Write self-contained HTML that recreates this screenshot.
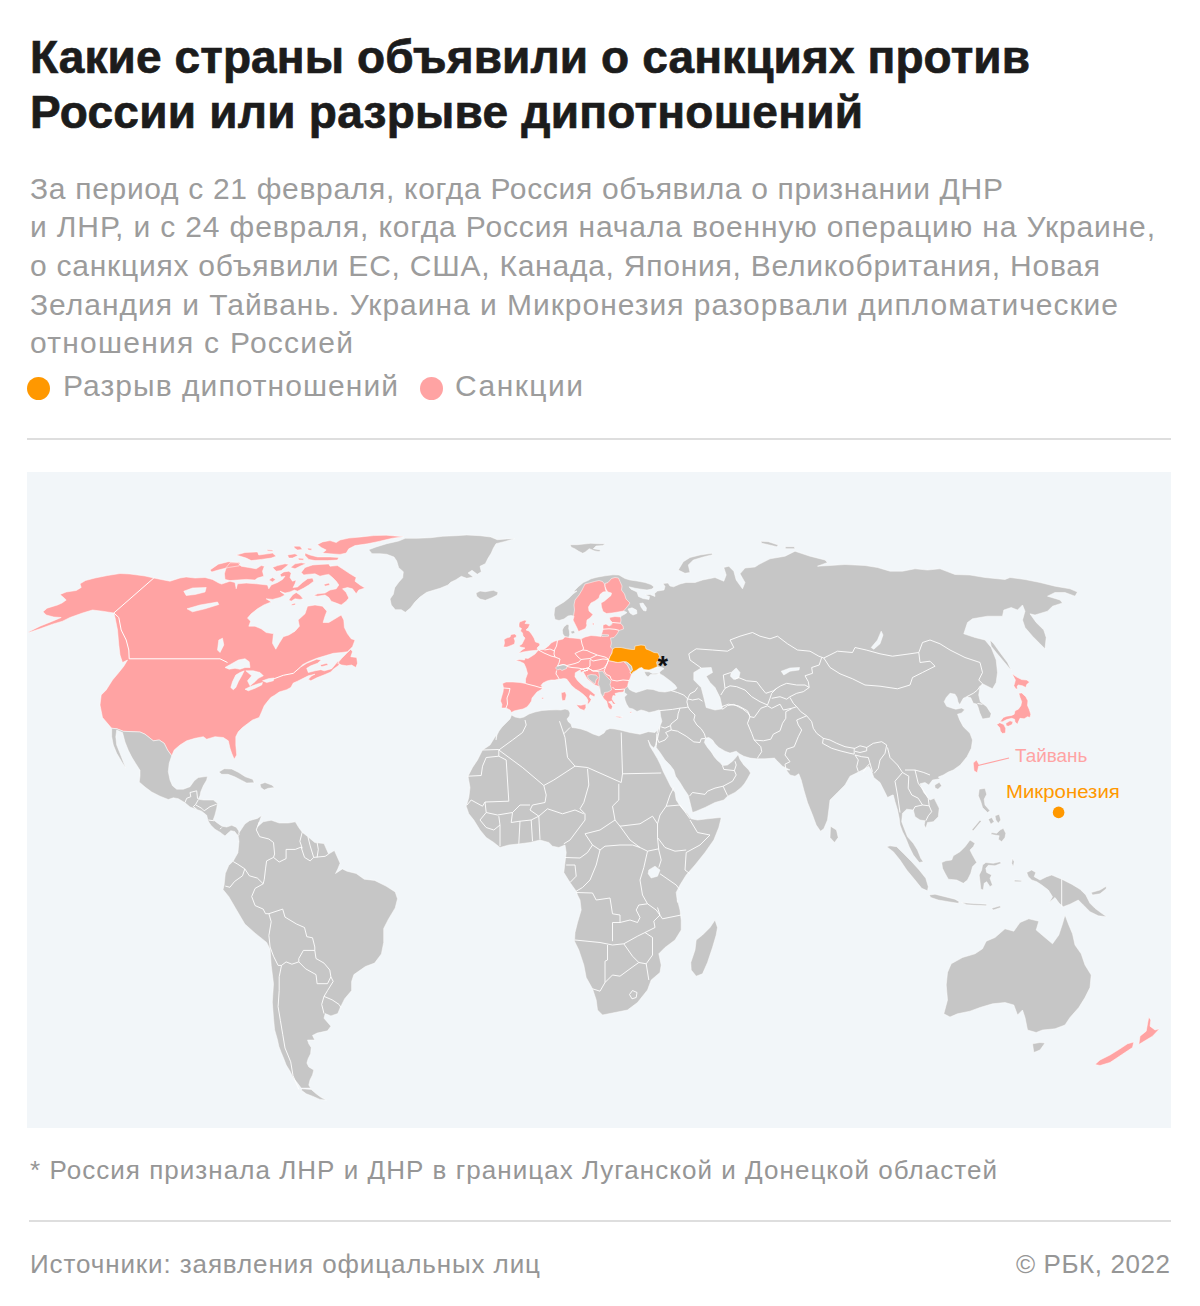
<!DOCTYPE html>
<html lang="ru">
<head>
<meta charset="utf-8">
<title>Какие страны объявили о санкциях против России</title>
<style>
html,body{margin:0;padding:0;background:#fff;}
body{width:1200px;height:1306px;position:relative;overflow:hidden;font-family:"Liberation Sans",sans-serif;}
.t{position:absolute;white-space:nowrap;left:30px;}
.h{font-weight:bold;font-size:46px;line-height:46px;color:#1c1c1c;-webkit-text-stroke:0.7px #1c1c1c;}
.b{font-size:30px;line-height:30px;color:#9c9c9c;}
.hr{position:absolute;left:27px;width:1144px;height:2px;background:#dedede;}
.dot{position:absolute;width:23.4px;height:23.4px;border-radius:50%;}
#map{position:absolute;left:27px;top:472px;width:1144px;height:656px;background:#f2f6f9;overflow:hidden;}
.f{font-size:26px;line-height:26px;color:#969696;}
</style>
</head>
<body>
<div class="t h" id="h1" style="top:34.1px;letter-spacing:0.112px">Какие страны объявили о санкциях против</div>
<div class="t h" id="h2" style="top:89.1px;letter-spacing:0.249px">России или разрыве дипотношений</div>
<div class="t b" id="b1" style="top:173.6px;letter-spacing:0.688px">За период с 21 февраля, когда Россия объявила о признании ДНР</div>
<div class="t b" id="b2" style="top:212.3px;letter-spacing:0.858px">и ЛНР, и с 24 февраля, когда Россия начала военную операцию на Украине,</div>
<div class="t b" id="b3" style="top:250.9px;letter-spacing:0.764px">о санкциях объявили ЕС, США, Канада, Япония, Великобритания, Новая</div>
<div class="t b" id="b4" style="top:289.6px;letter-spacing:0.978px">Зеландия и Тайвань. Украина и Микронезия разорвали дипломатические</div>
<div class="t b" id="b5" style="top:328.3px;letter-spacing:1.245px">отношения с Россией</div>
<div class="dot" style="left:26.9px;top:377.1px;background:#ff9800"></div>
<div class="t b" id="l1" style="left:63px;top:370.6px;letter-spacing:1.056px">Разрыв дипотношений</div>
<div class="dot" style="left:419.9px;top:377px;background:#ffa3a3"></div>
<div class="t b" id="l2" style="left:455px;top:370.6px;letter-spacing:1.487px">Санкции</div>
<div class="hr" style="top:438px"></div>
<div id="map">
<svg width="1144" height="656" viewBox="27 472 1144 656" style="position:absolute;left:0;top:0">
<path fill="#ffa3a3" stroke="#fff" stroke-width="0.5" stroke-linejoin="round" d="M28.8,631.8 40,626.2 52.5,621.2 61.2,617.5 53.8,617 46.2,615 43,611.8 47,608.2 57.5,605 62,603 66.2,600 63,597 60,594.5 66.2,592 76.2,590.5 81.2,587.5 80,583.8 85.5,580.5 95,578 107.5,575.5 120,573.5 130,574 137.5,575 145,576 153.8,578 161.2,579.5 170,581.2 180,578 186.2,577 195,578 205,577.5 212.5,579.5 218.8,583 221.6,584.1 230,581.2 235,582.5 236.2,588.8 237.5,583.8 246.2,583.1 256.2,583.8 267.5,585 268.8,588.8 271.2,585 277.5,582.5 282.5,579.4 285,576.2 281.2,576.9 280,574.4 283.8,571.9 288.8,571.2 291.2,573.1 290,577.5 292.5,581.2 296.2,580 295,583.8 293.1,587.5 297.5,586.9 302.5,582.5 307.5,578.8 312.5,578.1 313.8,581.2 308.8,585 303.8,588.1 297.5,591.2 294.4,590 290,591.9 285,593.1 280,591.2 285,595 280,597.5 272.5,599.4 266.2,598.8 271.2,601.9 263.8,605 257.5,608.8 251.2,613.8 247.5,618.1 250.6,621.2 248.8,626.2 255,626.2 261.2,628.8 266.2,632.5 273.8,633.8 273.3,635 272.5,643.3 275.8,649.2 279.2,643.3 283.3,636.7 288.8,635 295,631.2 299.4,626.2 298.1,620 305,613.8 307.5,606.2 315,605 322.5,606.2 326.9,611.2 325,616.2 323.1,622.5 328.8,622.5 335,618.8 341.2,615 343.8,620 344.4,627.5 347.5,633.8 351.2,638.8 355,640 352.5,646.7 347.5,651.7 341.7,652.5 333.3,653.3 325,655.8 316.7,658.3 308.3,661.7 302.5,664.7 300,667.5 306.7,663.3 316.7,659.2 321.3,660 317.5,663.3 310.8,665.8 306.7,668.3 308.3,672.5 315,670.8 320.8,669.7 324.2,670.8 328.3,669.7 331.7,668.7 338.3,660.8 339.2,665 333.3,669.2 330.8,672 325,674.5 316.7,677.8 310.8,680.8 308.3,679.2 311.7,675.8 315,674.2 308.3,675.8 303.3,678.3 297.5,681.2 293.3,683 290.8,687.5 286.7,689.7 279.2,692 275,695 270.8,697.5 266.7,702.5 264.2,705.8 261.7,711.7 259.2,717.5 252.5,720 242.5,727.5 238.3,731.7 235.8,736.7 235.8,745 236.7,755 234.2,759.2 231.7,753.3 230,748.3 228.3,740.8 223.3,737.5 215,736.7 206.7,739.2 203.3,736.7 195,738.3 186.7,740.8 180,745 174.2,750 171.7,755.8 167.5,750 164.2,743.3 159.2,740 153.3,740.8 145,734.2 140,732 123.3,731.3 116.7,728.7 111.7,728.3 102.5,717.5 100,705 101.2,695 106.2,690 112.5,680 118.8,672.5 123.8,666.2 127.5,660 122.5,662.5 120,655 118.8,645 117.5,630 115,617.5 113.8,613 102.5,611.2 92.5,610 82.5,613 70,617.5 62.5,621.2 52.5,624.2 40,628.8 28.8,632.5ZM337.5,663.3 341.7,658.3 346.7,653.3 350.8,649.2 352.5,651.7 350.8,656.7 356.7,657.5 357.5,663.3 355.8,667.5 351.7,665 346.7,665.8 341.7,665.0ZM320,665 326.7,663.3 328.3,665 321.7,666.7ZM210,570 218.3,564.2 228.3,561.7 240,562.5 239.2,565.8 228.3,567.5 218.3,570 211.7,572.0ZM224.4,573.8 226.2,567.5 230,562.8 237.5,562.8 241.2,566.2 248.8,567.5 256.2,568.8 261.2,565.6 264.4,566.2 262.5,571.2 263.8,576.2 257.5,578.1 255,580 246.2,579.4 237.5,580 230,580.6 225,579.4ZM236.2,555 245,552.5 257.5,551.9 258.8,555 267.5,553.8 272.5,553.1 276.2,556.2 271.2,558.1 261.2,559.4 251.2,560.6 246.2,558.1ZM266.9,549.8 273.1,550 272.5,551.2 267.5,551.0ZM272.5,567.5 277.5,565.6 285,563.8 288.8,564.4 285,567.5 281.2,570.6 276.2,571.2ZM290.6,567.5 295,563.8 301.2,562.8 306.2,563.5 300,566.2 295,568.8ZM268.8,580 272.5,577.5 275.6,579.4 272.5,581.9ZM287.5,555 295,553.8 298.1,555.6 292.5,558.1 288.8,558.1ZM298.1,558.1 303.8,558.5 303.5,560.2 298.8,560.0ZM293.8,546.2 300,546.2 302.5,549.4 297.5,550 294.4,548.1ZM307.5,548.1 311.9,548.5 311.5,550.2 308.1,550.0ZM305,553.1 310,555 317.5,556.9 330,556.9 338.8,557.5 337.5,560 327.5,560.6 315,560.6 308.8,559.4 305,555.6ZM317.5,544.4 322.5,541.9 330,540.6 336.2,542.5 340,540 348.8,538.1 361.2,536.9 373.8,535.6 386.2,535.2 403.8,536.8 392.5,538.2 382.5,540.6 380,541.2 367.5,543.8 355,545.6 348.8,548.8 346.2,553.1 340,554.4 330,553.8 322.5,553.1 326.2,550 321.2,547.5ZM301.2,572.5 305,567.5 312.5,565 320,564.4 328.8,564 330,566.2 337.5,565.6 342.5,568.8 350,573.8 356.2,577.5 355,581.2 360,585 365,588.1 358.8,590 356.2,593.8 352.5,588.8 347.5,587.5 342.5,588.8 346.2,592.5 348.8,598.1 346.2,601.2 341.2,605 336.2,603.1 331.2,601.2 328.8,597.5 325,595 317.5,596.2 313.8,595.6 317.5,593.8 325,593.1 330,590 336.2,588.8 338.8,585 336.2,581.2 332.5,577.5 328.8,574.4 325,575 320,576.2 315,573.8 307.5,574.4 303.8,575.0ZM323.8,584.4 328.8,583.1 330,585 325,586.2ZM288.8,600 292.5,595 296.2,592.5 300,595 303.1,598.8 300,599.4 295,598.8 291.2,601.2ZM291.2,604.4 295,603.1 295.6,604.8 291.9,605.6Z"/>
<path fill="#f2f6f9" stroke="#fff" stroke-width="0.5" stroke-linejoin="round" d="M183.8,591.2 192.5,588 206.2,587.5 205,592 195,594.5 186.2,595.5ZM187,608.8 200,605 217.5,602 218.8,604.5 205,608.8 192.5,611.8ZM218.8,640 222.5,638.2 223.8,645 220,652.5 217.5,650.0ZM225,667.5 230.8,664.2 238.3,660 245,658.7 249.2,661.7 250,667.5 245,667.5 240,669.2 235,668.3 229.2,669.2ZM230.8,687.5 232.5,681.7 235.8,675 240,672.5 244.2,670.8 241.7,675.8 238.3,681.7 235.8,687.5 233.3,689.7ZM245.8,670.8 253.3,670.8 260,672.5 263.3,675.8 258.3,678.3 255,681.7 250,685.8 247.5,680.8 251.7,675.8ZM245,689.2 250,686.7 256.7,684.2 262.5,682.5 261.7,685 255,688.3 248.3,690.8ZM262.5,680.8 268.3,678.7 274.2,678 273.3,680.8 266.7,682.5Z"/>
<polyline points="153.8,578.0 113.8,613.0" fill="none" stroke="#fff" stroke-width="1" stroke-linejoin="round"/>
<polyline points="113.8,613.0 118.8,617.5 121.2,630.0 126.2,640.0 128.8,650.0 129.2,658.8 220.0,658.8 227.5,662.5" fill="none" stroke="#fff" stroke-width="1" stroke-linejoin="round"/>
<polyline points="274.2,678.7 283.3,675.3 293.3,673.3 300.0,667.5" fill="none" stroke="#fff" stroke-width="1" stroke-linejoin="round"/>
<path fill="#c6c6c6" stroke="#fff" stroke-width="0.5" stroke-linejoin="round" d="M368.7,549.7 376,547 386.7,543.7 398.7,541 405.3,538.3 417.3,538.3 430.7,537.7 442.7,536.3 456,535.7 466.7,535 480,535.7 490.7,537 497.3,539.7 506.7,539 514.7,538.7 504,541.7 496,543.7 493.3,548.3 491.3,553 488,558.3 485.3,563.7 480,566.3 481.3,571.7 477.3,574.3 472,570.3 468,573 473.3,577 466.7,578.3 461.3,576.3 456,579.7 450.7,582.3 448,585 440,588.3 433.3,590.3 426.7,592.3 420,597 414.7,602.3 410.7,607.7 405.3,612.3 401.3,609.7 395.3,609.7 391.3,605 390,599 393.3,594.3 394.7,587.7 398.7,582.3 402.7,577.7 403.3,571.7 398.7,567.7 396.7,561 394,557 386.7,554.3 380,553.7 372,553.7ZM476,593 480,591 485.3,591.7 493.3,590.3 498,592.3 497.3,595 492,597.7 485.3,600.3 480,599 476.7,596.3ZM570,544.7 577.3,544.7 584,544 590.7,543.3 598.7,543.7 605.3,543.7 602.7,545.6 596,546 593.3,548.7 600.7,550 599.3,551.7 594.7,550.9 589.3,548.7 585.3,552 582.7,553.3 578.7,551.3 574.7,548.7 571.3,547.3ZM111.7,728.3 116.7,728.7 123.3,731.3 140,732 145,734.2 153.3,740.8 159.2,740 164.2,743.3 167.5,750 171.7,755.8 169.2,763.3 168.3,771.7 170,780 172.5,785.8 176.7,789.2 183.3,789.2 190,786.7 194.2,780.8 198.3,777.5 207.5,776.3 206.7,780 203.3,785.8 200.8,791.7 200,795.8 198.3,799.2 203.3,800 213.3,800 217.5,803.3 216.7,808.3 215,815 213.3,819.7 217,822.7 222,826.2 226.7,827 231.7,825.3 236.2,827.2 238.7,830.8 239.3,835 237.5,835.3 234.7,831.5 230.8,830.7 227.5,833.5 225,836 220,832.2 215,829.3 210.8,825.2 208,820.8 206.7,815.3 201.7,811.2 196.7,809.5 190,807 185,802.8 178.3,798.7 173.3,797.8 168.3,799.5 160,796.2 151.7,792 145,787 139.2,782 140,776.2 140,770.3 135.8,763.7 131.7,757 128.3,750.3 125,742 122.5,732.5 116.7,730 115.8,736.7 116.7,745 120,753.3 123.3,761.7 125.8,768.3 121.7,761.7 116.7,753.3 113.3,745 111.7,736.7ZM218.8,772 224.2,768.7 231.7,769 238.7,772.5 245.3,776.7 252.8,779.3 254.2,782.7 246.7,783 241.3,780.2 234.7,776.8 228,774.3 221.7,774.3ZM260,784.2 265,782.5 271.7,785 274.7,787.5 268.3,788.3 264.2,790 260.8,787.5ZM237.9,834.5 244.8,824.1 249.4,820.7 257.4,818.4 261.6,815.6 259.3,821.8 257.9,826.4 263.2,821.8 271.2,820.2 279.2,823 288.4,823 295.3,821.8 298.8,827.6 302.2,832.2 307.9,836.7 314.8,842.5 324,843.6 328.6,854 334.4,850.5 340.1,863.2 337.8,868.9 335.5,873.5 342.4,868.9 347,871.2 356.2,873.5 364.2,879.2 374.6,880.4 386,886.1 395.2,891.9 397.5,898.8 395.2,907.9 388.3,919.4 383.7,928.6 383.7,942.4 381.4,953.9 374.6,963.1 365.4,966.5 353.9,974.6 351.6,981.4 351.6,990.6 344.7,998.7 340.1,1007.9 337.8,1013.6 330.9,1015.9 325.2,1013.6 324,1018.2 330.9,1026.2 327.5,1030.8 317.1,1033.1 312.5,1035.4 314.8,1040 307.5,1040 308.8,1043.8 311.2,1047.5 310.6,1053.8 308.1,1058.8 306.9,1063.1 308.8,1066.9 313.8,1070 312.5,1075 310,1080 308.8,1085 310.6,1088.1 301.2,1088.1 297.5,1083.1 293.1,1077.5 290,1071.2 286.2,1065 283.8,1058.8 281.2,1052.5 278.8,1046.2 277.5,1040 274.6,1029.7 273.5,1018.2 272.3,1002.1 273.5,983.7 271.2,965.4 270.1,949.3 266.6,942.4 255.1,933.2 244.8,924 236.7,910.2 228.7,896.5 223,889.6 224.1,885 225.3,873.5 228.7,865.5 233.3,860.9 237.9,852.8 239,841.3ZM302.5,1088.8 311.2,1089.4 316.2,1093.8 321.2,1097.5 326.2,1100 320,1099.4 312.5,1096.2 306.2,1093.8 301.2,1090.0ZM573.5,616 571,615.5 568,616 564,619 559,620.5 555,619.5 554,615 554.5,610 555,607.5 559,605 564,602 569,598 573,594 577,591 573.3,591.7 578.3,586.7 583.3,582.5 588,580.5 591,578.8 597,577.2 605,575.8 613,574.8 619,575 621.5,576.5 625,578.5 630,580 637,581 645,582.5 651,584.5 654,587 652,589 647,590 641,589.2 635,588.2 629,586.8 631,589.2 637,592 638.5,596.5 643,598.5 649,599.5 649.5,596.5 645,595 650,594.5 655,596.5 654.5,593.5 657.5,591 664,590 665,586.5 663,583.5 668,583 670,586 673.5,586.8 680,584 686,582.5 695,582.5 702.5,580 715,577.5 723.8,581.2 726.2,575 723.8,567.5 728.8,566.2 733.8,571.2 736.2,580 742.5,588.8 745,582.5 740,573.8 745,568 755,567 758.8,564.5 770,558.8 785,556.2 795,551.2 810,556.2 825,560 827.5,562.5 817.5,566.2 830,565.5 845,564.5 865,565.5 877.5,567.5 890,571.2 902.5,571.2 915,568.8 927.5,570 940,568.8 955,574.5 970,575 985,577.5 1005,579.5 1010,577.5 1025,579.5 1040,582.5 1055,586.2 1070,588.8 1077.5,592 1075,596.2 1065,592.5 1055,592.5 1047.5,596.2 1060,600 1062.5,603 1052.5,606.2 1047.5,611.2 1035,615 1030,613.8 1036.2,622.5 1043.8,630 1046.2,637.5 1045,648.8 1040,643.8 1032.5,636.2 1025,627.5 1022.5,620 1025,611.2 1022.5,605 1017.5,610 1011.2,607.5 1003.8,610 1002.5,616.2 987.5,616.2 972.5,618.8 967.5,622.5 963.8,633.8 975,637.5 985,640 991.2,647.5 996.2,660 997.5,672.5 996.2,682.5 992.5,688.8 985,685 982.5,683.8 980,686.3 978.7,695 980.3,701.7 986.7,706.7 991.2,713.7 990,717.8 982.5,719 979.7,712.8 978,707 976.7,704 973.3,703.3 970.8,697.8 966.7,696.7 963.3,698.3 959.7,704.7 958,702 957,697.5 955,694.2 950,693.3 946.3,697.5 944.2,701.7 946.7,706.3 951.7,708 955.8,709.2 961.7,708 964.7,709.7 961.7,713 957.5,714.2 959.7,720 963.3,726.7 970,733.3 972.5,740 971.3,748.3 967,756.7 960.3,765 953.3,770 948.3,772 943.3,775 938.3,777 940,778.8 932.5,780 928.8,785 925,782.5 920,783.8 923.8,792.5 930,800 934.2,798.3 939.2,808.3 938.3,816.7 933.3,821.7 927.5,822.5 925.8,828.3 924.2,825 925,820.8 920,820 915,816.7 913.3,810 906.7,809.2 902.5,813.3 901.7,821.7 904.2,828.3 907.5,836.7 913.3,843.3 917.5,850 920.8,858.3 923.3,861.7 919.2,862.5 913.3,855 909.2,846.7 905.8,838.3 902.5,831.7 900,825 899.2,818.3 897.5,810 895,801.7 893.3,795 892.5,795 887.5,797.5 883.8,790 880,782.5 873.8,777.5 871.2,770 868.8,766.2 862.5,770 855,773.8 850,776.2 845,785 837.5,792.5 830,800 828.8,810 827.5,820 823.8,828.8 820.5,831.2 816.2,825 812.5,815 807.5,802.5 803.8,790 801.2,780 798.8,773.8 795,776.2 790,775 786.2,770 790,770 782.5,766.2 777.5,761.2 774.4,758.1 765,758.8 756.9,758.8 750,758.1 743.8,756.2 739.4,753.8 736.2,751.2 730,753.1 725,751.2 718.8,747.5 715,743.8 712.5,740 708.8,737.5 705.6,738.1 704.4,742.5 707.5,747.5 711.2,751.9 714.4,756.9 717.5,760.6 720,762.5 722.5,765.6 727.5,765 732.5,761.2 735.6,757.8 738.1,754.6 740,759.4 743.8,765 748.8,770 750.6,773.1 747.5,778.8 744.4,783.8 741.2,787.5 735,792.5 727.5,796.2 723.8,800 715,802.5 705,807.5 696.2,811.2 692.5,812.5 689.4,800 688.1,795 683.8,788.8 680,782.5 675.6,776.2 673.8,770 670,765 665,760 660,752.5 656.2,747.5 656.9,740 657.5,738.8 656.9,733.8 658.1,730 660,726.2 661.9,721.2 660.6,716.2 660,710.6 659,710 654,711.5 649,712.5 645,711 641,710 637,711.5 633,709 629,708 626.5,704 625,700 624.5,697 627,694.5 624.5,692.5 624.5,689 620,685 618,670 615,655 605,645 605,630 615,620 620.5,617 622,615.5 625,614 627,612.5 625,611.5 623.5,611 615,600 613,585 595,590 585,600 580,610 575,616.2Z"/>
<path fill="#f2f6f9" stroke="#fff" stroke-width="0.5" stroke-linejoin="round" d="M631.5,674.5 630,678.5 629,680.5 628,684 627.5,686.5 629.5,689.5 632,691 636,692.5 641,691 647,689 653,689.5 659,691.5 665,692 670,691 675,689.5 677,688 675,685 671,681.5 667,678.5 663,675.5 660,674 659.5,672.2 662,670 664,668.8 662,667.5 657.5,666.8 653,668.8 649,670 644,669.5 642,667.5 639.5,668.2 636,670.5Z"/>
<path fill="#c6c6c6" stroke="#fff" stroke-width="0.5" stroke-linejoin="round" d="M644,671.8 649,671.8 652.5,673.5 657,673.2 659.5,673.8 655,674.5 650.5,674.5 648,677 645.8,675.2 644.8,673.0Z"/>
<path fill="#f2f6f9" stroke="#fff" stroke-width="0.5" stroke-linejoin="round" d="M628,609 632,607.8 636.5,610 637,613.5 633,615 630,613.0ZM639.8,603.5 643,603 646.5,608 646,611 643.5,610.5 641,607.0ZM693.8,672.5 701.2,668 711.2,667.5 712.5,672.5 706.2,676.2 710,682.5 715,687.5 720,697.5 722.5,708.8 715,710 706.2,707.5 703.8,697.5 701.2,687.5 693.8,680.0ZM731.2,672.5 736.2,668 740,672.5 738.8,678 733.8,679.5 730.5,676.2ZM781.2,671.2 790,668 799.5,667.5 799,670 790,671.2 783.8,675.0ZM871.2,647.5 877.5,640 881.2,631.2 883,635 880,643.8 873.8,649.2Z"/>
<path fill="#ffa3a3" stroke="#fff" stroke-width="0.5" stroke-linejoin="round" d="M538.5,650 544,649.5 549,645.5 551,643 555,641 557.5,640.5 559,640 563,639 565,636.8 568.5,637.2 569,637.7 573,638 578,638.5 581,639 585,637 591,635.5 597,636 601,636.5 601.5,634.5 603,629.5 603,625 606,624 609,626 611.5,625 612.5,622.5 610,620 609.5,617.5 615,616.5 620.5,617 621,620 620.5,623.2 623,626 623.5,629 619,630.5 617,634 614,637.5 610.5,638 611.5,643 610.5,647 612,648.5 612.5,649.5 612,653 610,656.5 608.5,660.5 613,661.5 618,662.5 623.5,661.5 624.5,662 627.5,665 629,668 630.5,671 630,673 631.5,674.2 630,678.5 629,680.5 628,684 627.5,686.5 624.5,689 623.5,692 619,692.5 615,693.5 616,696 613,695.5 612,699 614,702 616,704 613,704 611.5,701 608.5,702 611,704 612.5,706.5 611.5,709.5 609.5,709 608,707 607.5,704.5 606.5,701 604,699 602.5,696.5 601,694 600,690 599,686.5 595,685 591,682 587,678.5 585,675 583,671.5 581,672.5 580,670 575.3,672.8 575,676.8 577.5,680.6 580.5,683.6 584.4,687.1 588.3,689.1 591.4,691.6 595.3,694.7 594.2,696.7 590.2,694.7 589.3,697 591.3,699.5 589.8,702.2 587.4,704.9 588,700.3 586.4,697.4 583.4,694.5 579.5,691.5 575.5,689 571.5,685.5 568.5,681.5 566.6,679 563.8,678.4 561,679 559,679 555,680 551,680 547,681 543,683 541,685.5 543,687.8 540.5,690 537,692 534.5,695 532,698 531.5,701 529.5,704 527,707 523,709 518,710 514,711 511.5,712.5 510,710 506,708 501.5,708 502,704.5 500.5,701 501.5,697 503,692 503.5,688 502.5,683.5 506,682 513,682 520,682.5 525.5,683.5 525.5,679 527.5,673.5 526,668 524,663.5 520,661.5 515.5,660.5 519.5,659.5 524.5,660 525,658 528,658.5 532,656 535,654 538,650.5ZM574,616.5 573,620 575,624 577,628 578.5,631.5 582,630 585.5,628.5 587,625 586.5,624 587,620 590,618 593,614.5 589,611 588.5,607 591,603 595,601 599,598 600,594.5 603,592 606.5,591.5 605.5,590 604.5,584 602.5,581.5 599,580.5 594.5,581.5 589,583 585,584 582,590 579,595 575,600 574,605 574.5,610 573.5,616.0ZM605,583.5 608,582.5 611.5,578.5 615,577.5 618.5,578 620,581.5 622,586 621.5,590 624.5,594 626,599 630,603 627,607 623.5,611 618,612 612,613 606.5,613.5 603,611.5 601.5,607 601,603 604.5,601 608,598 611,595.5 611.5,593 608,592 606.5,590 605,586.5ZM519.5,622 525,620 526.5,621 525,623.5 530,624 528.5,627.5 526,630 529,631 531.5,634 534,638 535.5,642 539,643 540,645 537,648 538,650 534,650.5 529,651 523,652 518.5,653.2 522,650 525,648 520.5,647 519,646 522,644 523.5,641 525,638 523,636 522.5,633 520.5,631 521.5,628.5 519,627 519,624.0ZM503.5,647 504.5,643 504,639.5 507,637.8 510,637 511,634.5 514.5,634 516.5,635.5 516,637.5 514,638 515,641 514.5,644 511,645.5 507,647.0ZM576.2,704.8 581,705.2 585.8,704.1 585.9,707.7 584.2,710.4 579.8,708.8ZM561.2,692.8 565.2,691.7 566.4,695 565.3,700.3 562.3,700.8 561.5,697.0ZM541.8,697.4 543.4,697.4 543.4,699 541.8,699.0ZM615.5,716.2 619,716.5 623,717.2 619.5,717.8 616,717.0ZM629.8,712 631.6,711.8 631.4,713 630,713.1ZM592.5,622.8 594,623.2 593.8,625.2 592.6,624.8Z"/>
<path fill="#c6c6c6" stroke="#fff" stroke-width="0.5" stroke-linejoin="round" d="M564.8,636.6 562.8,634 562.3,630 563.8,627 567,624.3 569,625 568.7,628.5 569.4,631 569.7,634.5 569,637.2ZM570.5,631.5 574,630.5 575,633 572,634.0ZM555.5,668 557.5,666 561,665 564.5,664.5 567,666 566.5,668.5 564,669.5 562,670.5 560,669 557.5,670.0ZM587.5,675.5 591,674.5 596,675 598,677.5 596,680 595,684 591,681 588,678.0ZM598.5,671.5 602.5,671 605,674.5 608,678 611,681 610,684.5 611,687.5 611.5,690 608,692 604.5,692.5 603.5,696 602.5,696.5 600.5,693 600,689 599.5,686.5 598,684 599,680 599.5,676.0ZM601.5,634.5 608.5,634.8 608.5,636.2 601.8,636.5Z"/>
<path fill="#ff9800" stroke="#fff" stroke-width="0.5" stroke-linejoin="round" d="M608.5,660.5 610,656.5 612,653 612.5,649.5 615,647.5 621,647.5 628,649 632,649.5 634.5,649.5 635,646 641,645 645,645.5 646,649 650,650.5 654,652.5 658,653 659.5,656.5 658,660 656.5,662.5 657.5,666.5 653,668.5 649,670 644,669.5 642,667.5 639.5,668 636,670.5 633,672 631.5,674 630,673 632.5,670 631.5,666 629,663.5 626.5,662 623.5,661.5 618,662.5 613,661.5Z"/>
<path fill="#c6c6c6" stroke="#fff" stroke-width="0.5" stroke-linejoin="round" d="M624.5,662 626.5,662.2 629,664 631.5,666.5 632,669.5 630.5,671 629,668 627.5,665.0ZM496,740 497,735 499,731 502,727 506,723 510,719 511.5,715 515,717 520,718 524,717 529,714 535,712 542,710.5 549,710 557,709.8 561,710 565,709 568.5,710 570,713 569.5,716 567,719 568.5,722 571,724 572,727.5 576,728 581,729 587,731 593,734 599,736 604,733 606,730 610,728.5 615,729 620,730 630,732.5 640,734.2 648.3,731.7 655,732.5 657.5,730 656.9,733.8 657.5,738.8 656.2,742.5 655.6,745 653.8,748.1 650.6,745 648.1,740 650,746.2 653.8,752.5 657.5,758.8 660.6,765 663.1,771.2 666.9,778.8 670.6,786.2 675,792.5 676.2,800 681.2,807.5 687.5,813.8 691.2,818.8 697.5,820 707.5,818.8 720,817.5 721.2,818 718.8,827.5 713.8,840 705,852.5 695,865 686.2,875 680,885 676.2,892.5 677.5,902.5 677.5,900 680,910 681.2,920 681.2,930 675,940 665,947.5 658.8,953.8 661.2,965 660,972.5 651.2,980 647.5,990 637.5,1002.5 627.5,1010 615,1012.5 602.5,1015 597.5,1010 596.2,1000 592.5,988.8 586.2,977.5 583.8,965 578.8,950 574.5,941.2 575,932.5 577.5,922.5 581.2,910 580,900 577.5,895 576.2,891.2 570,882.5 563.8,872.5 565,862.5 566.2,852.5 565,845 558.8,847.5 552.5,846.2 548.8,842.5 540,840 530,842.5 520,843.8 508.8,845 500,847.5 493.8,842.5 486.2,837.5 480,830 473.8,820 468.8,813.8 466.2,806.2 468.8,797.5 470,787.5 468,776.2 472.5,767.5 477.5,760 482.5,750 490,745 496.2,735.0ZM715,920 717.5,927.5 716.2,935 712.5,947.5 707.5,962.5 702.5,973.8 696.2,976.2 691.2,970 690.8,962.5 695,950 696.2,940 702.5,935 710,927.5Z"/>
<path fill="#f2f6f9" stroke="#fff" stroke-width="0.5" stroke-linejoin="round" d="M648.8,870 655,866.2 660,870 657.5,876.2 651.2,878 648.2,873.8Z"/>
<path fill="#c6c6c6" stroke="#fff" stroke-width="0.5" stroke-linejoin="round" d="M990,640 993.8,643.8 1000,652.5 1007.5,662.5 1011.2,670 1008.8,667.5 1002.5,660 996.2,652.5 991.2,646.2Z"/>
<path fill="#ffa3a3" stroke="#fff" stroke-width="0.5" stroke-linejoin="round" d="M1012.1,673.8 1016.7,677.1 1021.7,679.6 1026.7,680 1029.6,682.1 1026.7,684.6 1025.8,687.5 1022.5,685.8 1018.3,685 1017.1,686.2 1017.5,689.2 1015.8,688.8 1013.8,685.8 1014.6,683.3 1015.4,680.0ZM1018.8,693.3 1021.7,692.9 1025.8,696.7 1027.9,700.8 1027.5,705.4 1029.2,709.2 1030.8,714.2 1030,717.5 1027.5,716.7 1024.2,718.8 1020,718.3 1018.3,722.1 1017.5,724.2 1015,722.1 1014.6,719.2 1011.7,718.3 1006.7,719.6 1002.5,721.7 1000,721.7 1003.3,717.5 1006.7,716.2 1011.7,715.4 1014.2,714.2 1015,710.8 1018.3,709.2 1020.8,705.8 1021.7,701.7 1020,697.5ZM1005.8,723.3 1010,720.8 1013,721.8 1012.1,724.5 1008.3,726.3 1006.3,725.7ZM996.7,724.6 999.8,722.7 1003.8,724.6 1005.7,728.3 1005.5,733 1002.3,733.5 1000.3,731 999.8,727.7Z"/>
<path fill="#c6c6c6" stroke="#fff" stroke-width="0.5" stroke-linejoin="round" d="M678.3,570 683.3,561.7 690,557.5 700,555 711.7,553.3 712.5,554.7 703.3,557 693.3,560 688.3,565 690,572.5 685,573.3ZM760.8,541.3 768.3,541.7 778.3,545 776.7,546.7 768.3,544.7 761.7,543.3ZM785,546.7 794.2,546.7 795,548.7 785.8,548.7Z"/>
<path fill="#ffa3a3" stroke="#fff" stroke-width="0.5" stroke-linejoin="round" d="M973.2,763 976.5,760 979,764.5 977.2,772.8 974,770.8Z"/>
<path fill="#c6c6c6" stroke="#fff" stroke-width="0.5" stroke-linejoin="round" d="M934.7,785 939.3,782.3 941.7,785.7 938,789.3 935,788.0ZM979.2,789.2 985,788.3 986.7,794.2 984.2,799.2 985,805 990,810.8 987.5,812.5 982.5,807.5 980.8,801.7 978.3,795.8ZM988.3,819.2 991.7,817.5 994.2,821.7 990.8,824.2ZM995,815.8 999.2,814.2 1000.8,820 998.3,823.3 995.8,820.0ZM971.7,830 980,820 981.3,821.3 973.3,830.8ZM996.7,833.3 1000,830 1003.3,828.3 1005.8,833.3 1005,837.5 1001.7,841.7 998.3,839.2 999.2,835.8 994.2,835 990.8,834.2 991.7,832.5ZM941.7,862.5 945.8,860.8 951.7,860 953.3,855.8 960,851.7 965,846.7 970,840 975,843.3 973.3,846.7 970,850 972.5,855 976.7,862.5 972.5,866.7 970.8,873.3 967.5,880 963.3,883.3 956.7,880 948.3,879.2 945,873.3 942.5,868.3ZM890,845.8 896.7,846.7 903.3,853.3 911.7,861.7 919.2,870 925.8,878.3 928.3,886.7 927.5,890.8 921.7,888.3 915,880 906.7,870 900,860 893.3,851.7 886.7,846.7ZM929.2,895 935,894.2 945,896.7 955,899.2 959.2,901.7 958.3,903.3 948.3,901.7 938.3,900 930.8,897.5ZM961.7,902.5 966.7,903 976.7,903.7 986.7,904.2 986.3,905.8 976.7,905.3 966.7,904.7ZM991.7,908.3 1000,905.8 1000.8,907.5 993.3,910.0ZM982.5,865 985.8,862.5 993.3,863.3 1000,861.7 1001.3,863.3 995,865.8 988.3,865.3 985.8,868.3 986.7,872.5 991.7,875 990,878.3 992.5,885 990,886.7 986.7,881.7 984.2,883.3 983.3,890 980.8,889.2 980,881.7 979.2,875 981.7,870.0ZM1012.5,858.3 1014.2,861.7 1013.3,866.7 1011.7,863.3ZM1014.2,880 1021.7,880.5 1021.3,881.8 1014.7,881.7ZM1026.7,872.5 1031.7,870 1035.8,872.5 1034.2,876.7 1040,880 1046.7,876.7 1051.7,875 1061.7,879.2 1071.7,884.2 1080,889.2 1085.8,895 1090,903.3 1095,908.3 1101.7,913.3 1106.7,916.7 1098.3,915.8 1090,911.7 1083.3,905 1078.3,900 1070,904.2 1063.3,906.7 1059.2,903.3 1055,897.5 1049.2,902.5 1052.5,896.7 1048.3,890 1041.7,885 1036.7,881.7 1031.7,880 1028.3,876.7ZM1091.2,892.5 1100,890 1106.2,886.2 1106.2,888.8 1100,893.8 1092.5,895.0ZM830.5,826.2 836.5,830 838.2,837.5 834.5,842.5 830,837.5ZM943.8,1013.8 947.5,1000 946.2,985 947.5,972.5 951.2,963.8 962.5,957.5 975,953.8 982.5,948.8 986.2,941.2 995,937.5 1005,928.8 1013.8,931.2 1020,922.5 1028.8,918.8 1038.8,921.2 1036.2,930 1045,937.5 1052.5,943.8 1058.8,935 1062.5,923.8 1065,915 1068.8,925 1072.5,933.8 1075,945 1081.2,953.8 1085,965 1091.2,975 1090,987.5 1085,997.5 1078.8,1007.5 1070,1017.5 1065,1025 1055,1028.8 1042.5,1030 1036.2,1032.5 1027.5,1030 1025,1017.5 1022.5,1010 1017.5,1015 1013.8,1005 1005,1002.5 992.5,1003.8 980,1007.5 970,1011.2 957.5,1013.8 950,1017.0ZM1032.5,1043.8 1040,1042.5 1045,1043 1040,1050 1033.8,1052.5Z"/>
<path fill="#ffa3a3" stroke="#fff" stroke-width="0.5" stroke-linejoin="round" d="M1148.8,1017 1150.8,1020 1150,1026.2 1155,1030 1159.5,1028.8 1152.5,1036.2 1146.2,1040 1138.8,1044.5 1140,1036.2 1146.2,1031.2 1147.5,1023.8ZM1133.8,1042 1132.5,1047.5 1125,1052.5 1117.5,1057.5 1110,1062.5 1100,1065.5 1095,1064.5 1100,1060 1110,1055 1120,1048.8 1127.5,1043.8Z"/>
<polyline points="538.5,650.0 544.0,653.0 551.0,656.0 555.0,657.0 560.0,659.0 559.0,663.0 557.5,666.0" fill="none" stroke="#fff" stroke-width="0.9" stroke-linejoin="round"/>
<polyline points="557.5,640.5 556.5,646.0 554.5,650.0 554.0,654.0 555.0,657.0" fill="none" stroke="#fff" stroke-width="0.9" stroke-linejoin="round"/>
<polyline points="544.5,650.0 550.0,649.0 554.5,651.0" fill="none" stroke="#fff" stroke-width="0.9" stroke-linejoin="round"/>
<polyline points="581.0,639.0 582.0,644.0 583.5,648.0 583.0,650.0 579.0,651.5 575.0,653.5 578.0,657.0 581.0,659.5" fill="none" stroke="#fff" stroke-width="0.9" stroke-linejoin="round"/>
<polyline points="583.0,650.0 587.0,650.5 591.0,652.5 595.0,654.0 597.0,655.0 601.0,656.0 605.0,657.0 608.5,659.0" fill="none" stroke="#fff" stroke-width="0.9" stroke-linejoin="round"/>
<polyline points="581.0,659.5 585.0,659.0 590.0,658.5 594.0,656.5 597.0,655.0" fill="none" stroke="#fff" stroke-width="0.9" stroke-linejoin="round"/>
<polyline points="590.0,659.0 593.0,661.0 598.0,660.0 603.0,659.0 608.5,659.5" fill="none" stroke="#fff" stroke-width="0.9" stroke-linejoin="round"/>
<polyline points="581.0,659.5 579.0,662.0 575.0,663.5 571.0,664.5 567.0,665.5 563.0,664.5 557.5,666.0" fill="none" stroke="#fff" stroke-width="0.9" stroke-linejoin="round"/>
<polyline points="567.0,666.5 572.0,667.5 578.0,668.0 583.0,669.0 588.0,668.0 590.0,666.0 590.0,660.0" fill="none" stroke="#fff" stroke-width="0.9" stroke-linejoin="round"/>
<polyline points="588.0,668.0 593.0,671.0 599.0,670.0 604.0,668.0 607.0,664.0 608.5,659.5" fill="none" stroke="#fff" stroke-width="0.9" stroke-linejoin="round"/>
<polyline points="583.0,669.0 585.0,671.0 588.0,670.0" fill="none" stroke="#fff" stroke-width="0.9" stroke-linejoin="round"/>
<polyline points="612.5,622.5 620.5,623.2" fill="none" stroke="#fff" stroke-width="0.9" stroke-linejoin="round"/>
<polyline points="603.0,629.2 609.0,628.8 615.0,629.3 619.0,630.3" fill="none" stroke="#fff" stroke-width="0.9" stroke-linejoin="round"/>
<polyline points="503.5,688.0 510.0,688.5 509.0,693.0 507.0,698.0 507.5,704.0 506.0,708.0" fill="none" stroke="#fff" stroke-width="0.9" stroke-linejoin="round"/>
<polyline points="525.5,683.5 529.0,684.5 535.0,686.0 540.0,687.5 543.0,687.8" fill="none" stroke="#fff" stroke-width="0.9" stroke-linejoin="round"/>
<polyline points="559.0,678.8 557.5,676.0 556.0,674.0 556.5,670.5" fill="none" stroke="#fff" stroke-width="0.9" stroke-linejoin="round"/>
<polyline points="580.0,670.0 583.0,669.0 588.0,668.0 593.0,671.0 598.5,671.5" fill="none" stroke="#fff" stroke-width="0.9" stroke-linejoin="round"/>
<polyline points="588.0,668.0 588.0,670.0 585.0,671.0 583.0,671.5" fill="none" stroke="#fff" stroke-width="0.9" stroke-linejoin="round"/>
<polyline points="608.5,660.5 606.5,665.0 604.0,671.0 606.5,674.5 610.0,676.0 611.5,680.0 617.0,681.0 623.0,680.0 629.0,680.5" fill="none" stroke="#fff" stroke-width="0.9" stroke-linejoin="round"/>
<polyline points="612.5,687.0 615.0,689.5 620.0,689.5 624.5,689.0" fill="none" stroke="#fff" stroke-width="0.9" stroke-linejoin="round"/>
<polyline points="259.3,821.8 256.3,829.9 259.7,836.7 268.9,839.0 273.5,842.5 274.6,854.0 273.5,857.4 266.6,860.9 265.5,868.9 264.3,879.2 263.2,883.8 257.4,878.1 249.4,875.8 244.8,868.9 237.9,864.3 233.3,861.6" fill="none" stroke="#fff" stroke-width="0.9" stroke-linejoin="round"/>
<polyline points="244.8,868.9 242.5,875.8 234.5,881.5 229.9,887.3 225.3,886.1" fill="none" stroke="#fff" stroke-width="0.9" stroke-linejoin="round"/>
<polyline points="263.2,883.8 255.1,888.4 251.7,896.5 255.1,905.6 263.2,909.1 265.5,913.7 268.9,913.7 271.2,921.7 268.9,935.5 270.1,947.0 273.5,956.2 278.1,965.4 281.5,965.4 279.2,976.8 279.2,990.6 278.1,1006.7 280.4,1020.5 282.7,1034.3 285.0,1048.0 290.7,1061.8 293.0,1075.6 298.8,1089.4" fill="none" stroke="#fff" stroke-width="0.9" stroke-linejoin="round"/>
<polyline points="268.9,913.7 282.7,909.1 285.0,917.1 296.5,924.0 304.5,927.5 306.8,936.7 312.5,937.8 314.8,947.0 314.8,950.4 303.4,950.4 298.8,958.5 298.8,961.9 291.9,964.2 286.1,961.9 281.5,965.4" fill="none" stroke="#fff" stroke-width="0.9" stroke-linejoin="round"/>
<polyline points="314.8,950.4 316.0,958.5 324.0,963.1 329.8,970.0 330.9,976.8 333.2,981.4 327.5,990.6 324.0,996.4 332.1,999.8 339.0,1004.4 341.2,1007.9" fill="none" stroke="#fff" stroke-width="0.9" stroke-linejoin="round"/>
<polyline points="298.8,961.9 305.6,968.8 316.0,974.6 317.1,983.7 327.5,983.7 330.9,976.8" fill="none" stroke="#fff" stroke-width="0.9" stroke-linejoin="round"/>
<polyline points="324.0,996.4 321.7,1004.4 324.0,1013.6" fill="none" stroke="#fff" stroke-width="0.9" stroke-linejoin="round"/>
<polyline points="302.2,832.2 299.9,841.3 302.2,848.2 301.1,847.1 295.3,849.4 286.1,849.4 286.1,858.6 279.2,862.0 273.5,857.4" fill="none" stroke="#fff" stroke-width="0.9" stroke-linejoin="round"/>
<polyline points="301.1,847.1 304.5,857.4 310.2,860.9 313.7,857.4 325.2,856.3 328.6,854.0" fill="none" stroke="#fff" stroke-width="0.9" stroke-linejoin="round"/>
<polyline points="307.9,836.7 310.2,845.9 313.7,857.4" fill="none" stroke="#fff" stroke-width="0.9" stroke-linejoin="round"/>
<polyline points="317.1,842.5 318.3,849.4 317.1,857.4" fill="none" stroke="#fff" stroke-width="0.9" stroke-linejoin="round"/>
<polyline points="468.0,776.2 481.2,775.5 482.5,766.2 486.2,757.5 498.8,756.2 498.8,750.0 512.5,740.0 522.5,732.5 526.2,725.0 525.0,720.0" fill="none" stroke="#fff" stroke-width="0.9" stroke-linejoin="round"/>
<polyline points="482.5,750.0 498.8,749.5" fill="none" stroke="#fff" stroke-width="0.9" stroke-linejoin="round"/>
<polyline points="498.8,756.2 506.2,760.0 508.8,801.2 485.0,802.0 482.5,806.2 471.2,800.0 467.0,805.0" fill="none" stroke="#fff" stroke-width="0.9" stroke-linejoin="round"/>
<polyline points="498.8,750.0 522.5,767.5 543.8,785.5 553.8,780.0 575.0,766.2 567.5,757.5 565.0,737.5 562.5,730.0 559.5,721.2" fill="none" stroke="#fff" stroke-width="0.9" stroke-linejoin="round"/>
<polyline points="563.8,733.8 570.0,727.5" fill="none" stroke="#fff" stroke-width="0.9" stroke-linejoin="round"/>
<polyline points="621.2,732.5 622.5,773.8 661.2,773.0" fill="none" stroke="#fff" stroke-width="0.9" stroke-linejoin="round"/>
<polyline points="622.5,773.8 621.2,782.5 587.5,767.5 575.0,766.2" fill="none" stroke="#fff" stroke-width="0.9" stroke-linejoin="round"/>
<polyline points="587.5,768.8 588.8,785.0 583.8,802.5 580.0,808.8 585.0,813.8 585.0,820.0 577.5,830.0 570.0,840.0 563.8,843.8" fill="none" stroke="#fff" stroke-width="0.9" stroke-linejoin="round"/>
<polyline points="543.8,785.5 546.2,795.0 545.0,802.5 532.5,805.0 530.0,810.0 538.8,816.2 547.5,808.8 562.5,813.8 575.0,810.0 583.8,813.8" fill="none" stroke="#fff" stroke-width="0.9" stroke-linejoin="round"/>
<polyline points="485.0,802.0 486.2,812.5 497.5,815.0 512.5,812.5 520.0,805.0 530.0,805.0" fill="none" stroke="#fff" stroke-width="0.9" stroke-linejoin="round"/>
<polyline points="486.2,812.5 480.0,820.0 486.2,827.5 493.8,830.0 500.0,825.0 498.8,816.2" fill="none" stroke="#fff" stroke-width="0.9" stroke-linejoin="round"/>
<polyline points="500.0,825.0 500.0,846.2" fill="none" stroke="#fff" stroke-width="0.9" stroke-linejoin="round"/>
<polyline points="512.5,812.5 511.2,822.5 520.0,821.2 518.8,843.8" fill="none" stroke="#fff" stroke-width="0.9" stroke-linejoin="round"/>
<polyline points="520.0,821.2 531.2,820.0 532.5,841.2" fill="none" stroke="#fff" stroke-width="0.9" stroke-linejoin="round"/>
<polyline points="531.2,820.0 538.8,816.2 540.0,839.5" fill="none" stroke="#fff" stroke-width="0.9" stroke-linejoin="round"/>
<polyline points="618.8,783.8 618.8,800.0 612.5,806.2 615.0,820.0 620.0,826.2 630.0,825.0 640.0,823.8 652.5,816.2 657.5,823.8 660.0,815.0 666.2,806.2 670.0,795.0 673.8,787.5" fill="none" stroke="#fff" stroke-width="0.9" stroke-linejoin="round"/>
<polyline points="585.0,833.8 600.0,830.0 615.0,820.0" fill="none" stroke="#fff" stroke-width="0.9" stroke-linejoin="round"/>
<polyline points="666.2,806.2 680.0,805.0 690.0,818.8" fill="none" stroke="#fff" stroke-width="0.9" stroke-linejoin="round"/>
<polyline points="690.0,820.0 697.5,832.5 710.0,835.0 700.0,845.0 686.2,852.5 685.0,870.0 690.0,873.8" fill="none" stroke="#fff" stroke-width="0.9" stroke-linejoin="round"/>
<polyline points="657.5,837.5 665.0,847.5 675.0,851.2 686.2,850.0" fill="none" stroke="#fff" stroke-width="0.9" stroke-linejoin="round"/>
<polyline points="657.5,823.8 657.5,837.5 658.8,850.0 661.2,860.0 658.8,867.5" fill="none" stroke="#fff" stroke-width="0.9" stroke-linejoin="round"/>
<polyline points="620.0,826.2 630.0,840.0 640.0,847.5 647.5,851.2 658.8,848.8" fill="none" stroke="#fff" stroke-width="0.9" stroke-linejoin="round"/>
<polyline points="585.0,833.8 592.5,845.0 600.0,850.0 605.0,846.2 620.0,845.0 632.5,845.0 640.0,847.5" fill="none" stroke="#fff" stroke-width="0.9" stroke-linejoin="round"/>
<polyline points="600.0,850.0 596.2,865.0 590.0,880.0 582.5,887.5 576.2,891.2" fill="none" stroke="#fff" stroke-width="0.9" stroke-linejoin="round"/>
<polyline points="565.0,857.5 580.0,858.0 587.5,852.5 592.5,845.0" fill="none" stroke="#fff" stroke-width="0.9" stroke-linejoin="round"/>
<polyline points="566.2,865.0 575.0,865.0 576.2,876.2 570.0,882.5" fill="none" stroke="#fff" stroke-width="0.9" stroke-linejoin="round"/>
<polyline points="576.2,892.5 592.5,893.0 596.2,900.0 610.0,898.0 612.5,913.8 620.0,915.0 620.0,922.5 630.0,920.0 637.5,922.5 640.0,917.5 636.2,910.0 638.8,905.0 647.5,903.8" fill="none" stroke="#fff" stroke-width="0.9" stroke-linejoin="round"/>
<polyline points="647.5,851.2 643.8,867.5 640.0,880.0 642.5,895.0 647.5,903.8 656.2,910.0 662.5,918.8 681.2,915.0" fill="none" stroke="#fff" stroke-width="0.9" stroke-linejoin="round"/>
<polyline points="660.0,873.8 676.2,885.0 680.0,890.0" fill="none" stroke="#fff" stroke-width="0.9" stroke-linejoin="round"/>
<polyline points="575.0,940.0 600.0,942.5 612.5,945.0 623.8,943.8 637.5,936.2 645.0,932.5 655.0,927.5 653.8,921.2 660.0,915.0 657.5,907.5" fill="none" stroke="#fff" stroke-width="0.9" stroke-linejoin="round"/>
<polyline points="620.0,922.5 612.5,922.5 612.5,941.2" fill="none" stroke="#fff" stroke-width="0.9" stroke-linejoin="round"/>
<polyline points="607.5,945.0 607.5,960.0 605.0,961.2 605.0,982.5 600.0,991.2 592.5,988.8" fill="none" stroke="#fff" stroke-width="0.9" stroke-linejoin="round"/>
<polyline points="605.0,982.5 612.5,975.0 620.0,976.2 630.0,968.8 638.8,962.5 646.2,963.8 648.8,980.0" fill="none" stroke="#fff" stroke-width="0.9" stroke-linejoin="round"/>
<polyline points="623.8,943.8 632.5,956.2 638.8,962.5" fill="none" stroke="#fff" stroke-width="0.9" stroke-linejoin="round"/>
<polyline points="645.0,932.5 652.5,937.5 652.5,955.0 646.2,963.8" fill="none" stroke="#fff" stroke-width="0.9" stroke-linejoin="round"/>
<polyline points="629.5,994.5 632.5,990.5 637.0,992.5 636.2,997.5 632.0,998.8 629.5,994.5" fill="none" stroke="#fff" stroke-width="0.9" stroke-linejoin="round"/>
<polyline points="701.2,668.0 690.0,660.0 688.8,653.8 696.2,648.8 712.5,650.0 727.5,651.2 733.8,647.5 730.0,640.0 740.0,636.2 752.5,632.5 760.0,636.2 770.0,638.8 777.5,636.2 787.5,643.8 797.5,650.0 810.0,651.2 818.8,656.2 823.8,658.0 837.5,651.2 852.5,652.5 855.0,647.5 866.2,650.0 880.0,653.8 892.5,656.2 910.0,653.8 918.8,652.5 922.5,642.5 930.0,640.0 940.0,643.8" fill="none" stroke="#fff" stroke-width="0.9" stroke-linejoin="round"/>
<polyline points="940.0,643.8 950.0,650.0 965.0,657.5 980.0,662.5 982.5,672.5 978.8,680.0 982.5,683.8" fill="none" stroke="#fff" stroke-width="0.9" stroke-linejoin="round"/>
<polyline points="823.8,658.0 830.0,667.5 840.0,673.8 852.5,678.8 865.0,685.0 880.0,686.2 897.5,688.8 910.0,685.0 912.5,677.5 922.5,672.5 935.0,666.2 930.0,661.2 920.0,662.5 918.8,652.5" fill="none" stroke="#fff" stroke-width="0.9" stroke-linejoin="round"/>
<polyline points="887.5,747.5 890.0,757.5 897.5,765.0 902.5,772.5 895.0,781.2 897.5,795.0 900.0,812.5" fill="none" stroke="#fff" stroke-width="0.9" stroke-linejoin="round"/>
<polyline points="902.5,772.5 908.8,776.2 908.2,788.2 911.8,795.0 918.2,798.2 922.5,805.0" fill="none" stroke="#fff" stroke-width="0.9" stroke-linejoin="round"/>
<polyline points="905.0,770.0 915.0,770.0 923.8,772.5 930.0,775.0" fill="none" stroke="#fff" stroke-width="0.9" stroke-linejoin="round"/>
<polyline points="929.2,805.8 928.2,798.2 923.2,790.0 918.2,783.2 915.0,770.0" fill="none" stroke="#fff" stroke-width="0.9" stroke-linejoin="round"/>
<polyline points="913.3,810.0 915.0,806.7 922.5,805.0 929.2,805.8 931.7,811.7 928.3,815.8 925.8,820.8" fill="none" stroke="#fff" stroke-width="0.9" stroke-linejoin="round"/>
<polyline points="966.7,696.7 973.3,693.3 977.5,690.0 980.0,686.3" fill="none" stroke="#fff" stroke-width="0.9" stroke-linejoin="round"/>
<polyline points="977.5,703.5 982.5,704.3" fill="none" stroke="#fff" stroke-width="0.9" stroke-linejoin="round"/>
<polyline points="1061.7,879.2 1061.7,906.7" fill="none" stroke="#fff" stroke-width="0.9" stroke-linejoin="round"/>
<polyline points="821.7,657.5 819.2,665.0 811.7,667.5 812.5,673.3 805.0,675.8 808.3,681.7 809.2,687.5 805.0,685.0 796.7,685.0 786.7,683.3 780.8,685.8 776.7,688.3 773.3,690.8 765.8,693.3 761.7,688.3 756.7,681.7 746.7,680.8 738.3,677.5 735.0,679.2" fill="none" stroke="#fff" stroke-width="0.9" stroke-linejoin="round"/>
<polyline points="730.8,672.5 723.3,675.0 725.0,688.3 730.0,685.8 736.7,686.7 745.0,690.0 751.7,696.7 760.0,701.7 767.5,705.0 770.0,698.3 771.7,693.3 776.7,688.3" fill="none" stroke="#fff" stroke-width="0.9" stroke-linejoin="round"/>
<polyline points="725.0,688.3 720.8,695.0" fill="none" stroke="#fff" stroke-width="0.9" stroke-linejoin="round"/>
<polyline points="721.7,706.7 728.3,704.2 738.3,705.8 747.5,710.8 750.0,716.7 754.2,717.5 760.8,708.3 767.5,705.8 771.7,708.3 780.0,704.2 783.3,710.0 791.7,708.3 796.7,706.7" fill="none" stroke="#fff" stroke-width="0.9" stroke-linejoin="round"/>
<polyline points="771.7,698.3 780.0,696.7 786.7,699.2 790.0,696.7 796.7,693.3 803.3,691.7 809.2,687.5" fill="none" stroke="#fff" stroke-width="0.9" stroke-linejoin="round"/>
<polyline points="790.0,697.5 793.3,703.3 796.7,706.7" fill="none" stroke="#fff" stroke-width="0.9" stroke-linejoin="round"/>
<polyline points="750.0,716.7 747.5,723.3 751.7,733.3 754.2,740.0 763.3,740.8 770.8,739.2 773.3,734.2 780.0,730.8 782.5,723.3 785.8,718.3 785.8,711.7 791.7,708.7" fill="none" stroke="#fff" stroke-width="0.9" stroke-linejoin="round"/>
<polyline points="754.2,740.0 760.8,746.7 761.7,751.7 758.3,756.7 757.5,758.3" fill="none" stroke="#fff" stroke-width="0.9" stroke-linejoin="round"/>
<polyline points="796.7,706.7 800.8,711.7 806.7,715.8 796.7,720.0 798.3,725.0 801.7,730.0 798.3,736.7 794.2,746.7 786.7,749.2 785.0,755.0 790.0,761.7 785.0,764.2 785.8,768.3" fill="none" stroke="#fff" stroke-width="0.9" stroke-linejoin="round"/>
<polyline points="806.7,715.8 811.7,721.7 813.3,728.3 816.7,733.3 823.3,738.3 830.0,740.0 836.7,743.3 845.0,746.7 854.2,748.3 855.0,748.3 860.0,745.8 866.7,747.5 873.3,743.3 881.7,741.7 886.7,745.0 885.0,753.3 880.0,760.0 878.3,768.3 874.2,773.3" fill="none" stroke="#fff" stroke-width="0.9" stroke-linejoin="round"/>
<polyline points="823.3,738.3 822.5,743.3 831.7,748.3 840.0,750.8 850.0,753.3 854.2,754.2 854.2,748.3" fill="none" stroke="#fff" stroke-width="0.9" stroke-linejoin="round"/>
<polyline points="855.0,751.3 860.0,752.5 866.7,750.8 866.7,747.5" fill="none" stroke="#fff" stroke-width="0.9" stroke-linejoin="round"/>
<polyline points="855.0,755.0 858.3,760.0 856.7,766.7 858.3,771.7" fill="none" stroke="#fff" stroke-width="0.9" stroke-linejoin="round"/>
<polyline points="855.0,755.0 861.7,756.7 868.3,757.5 870.0,763.3 866.7,766.7 863.3,771.7" fill="none" stroke="#fff" stroke-width="0.9" stroke-linejoin="round"/>
<polyline points="870.0,763.3 872.5,771.7" fill="none" stroke="#fff" stroke-width="0.9" stroke-linejoin="round"/>
<polyline points="660.0,710.6 666.2,710.0 672.5,709.4 680.0,708.1 686.2,707.5 688.1,706.9" fill="none" stroke="#fff" stroke-width="0.9" stroke-linejoin="round"/>
<polyline points="680.0,708.1 678.1,713.8 677.5,718.8 671.2,723.8 670.6,725.6 665.0,728.1 661.2,726.9" fill="none" stroke="#fff" stroke-width="0.9" stroke-linejoin="round"/>
<polyline points="660.0,726.2 658.8,732.5 657.5,738.8" fill="none" stroke="#fff" stroke-width="0.9" stroke-linejoin="round"/>
<polyline points="657.5,738.8 658.8,742.5 665.0,740.0 668.1,736.2 665.6,732.5 671.2,730.0 670.6,725.6" fill="none" stroke="#fff" stroke-width="0.9" stroke-linejoin="round"/>
<polyline points="671.2,730.0 677.5,731.2 686.2,736.2 693.8,741.9 700.0,742.5 701.2,738.8 705.0,738.5" fill="none" stroke="#fff" stroke-width="0.9" stroke-linejoin="round"/>
<polyline points="688.1,706.9 690.0,710.0 695.0,715.0 693.8,720.0 696.9,725.0 701.2,728.8 704.4,733.8 705.6,738.1" fill="none" stroke="#fff" stroke-width="0.9" stroke-linejoin="round"/>
<polyline points="688.1,706.9 686.9,701.9 687.5,698.8 692.5,700.0 698.8,698.8 702.5,701.2" fill="none" stroke="#fff" stroke-width="0.9" stroke-linejoin="round"/>
<polyline points="687.5,698.8 683.8,695.0 677.5,692.5 671.2,690.6" fill="none" stroke="#fff" stroke-width="0.9" stroke-linejoin="round"/>
<polyline points="687.5,698.8 690.0,693.8 695.0,691.2 697.5,687.5" fill="none" stroke="#fff" stroke-width="0.9" stroke-linejoin="round"/>
<polyline points="722.5,709.4 727.5,705.6 733.8,704.4 742.5,708.8 748.8,713.8 750.0,716.9" fill="none" stroke="#fff" stroke-width="0.9" stroke-linejoin="round"/>
<polyline points="722.5,765.6 723.8,769.4 734.4,770.6 736.2,765.0 735.0,761.2" fill="none" stroke="#fff" stroke-width="0.9" stroke-linejoin="round"/>
<polyline points="734.4,770.6 736.2,775.0 732.5,781.2 723.1,786.2 715.0,788.1 707.5,791.2 705.0,794.4 692.5,792.5 689.4,796.2" fill="none" stroke="#fff" stroke-width="0.9" stroke-linejoin="round"/>
<polyline points="723.1,786.2 727.5,795.6" fill="none" stroke="#fff" stroke-width="0.9" stroke-linejoin="round"/>
<polyline points="656.9,733.8 656.2,745.0" fill="none" stroke="#fff" stroke-width="0.9" stroke-linejoin="round"/>
<polyline points="185.0,802.5 186.7,798.3 190.8,796.7 190.0,792.5 196.7,790.8 197.5,798.3 198.3,799.2" fill="none" stroke="#fff" stroke-width="0.9" stroke-linejoin="round"/>
<polyline points="198.3,799.7 195.8,804.2 193.3,806.7 196.7,809.2" fill="none" stroke="#fff" stroke-width="0.9" stroke-linejoin="round"/>
<polyline points="195.8,805.0 201.7,808.3 204.2,810.8 210.0,806.7 216.7,804.2" fill="none" stroke="#fff" stroke-width="0.9" stroke-linejoin="round"/>
<polyline points="208.3,820.0 214.2,820.8" fill="none" stroke="#fff" stroke-width="0.9" stroke-linejoin="round"/>
<polyline points="220.0,829.2 221.7,827.5" fill="none" stroke="#fff" stroke-width="0.9" stroke-linejoin="round"/>

<line x1="976" y1="766" x2="1009" y2="758" stroke="#ffa3a3" stroke-width="1.2"/>
<circle cx="1058.6" cy="812.4" r="5.8" fill="#ff9800"/>
<text x="1015" y="761.8" font-family="Liberation Sans, sans-serif" font-size="17.5" fill="#ffa3a3" textLength="72.3" lengthAdjust="spacingAndGlyphs">Тайвань</text>
<text x="1006" y="798" font-family="Liberation Sans, sans-serif" font-size="17.5" fill="#ff9800" textLength="113.8" lengthAdjust="spacingAndGlyphs">Микронезия</text>
<text x="657.4" y="675.4" font-family="Liberation Sans, sans-serif" font-size="27" font-weight="bold" fill="#111">*</text>

</svg>
</div>
<div class="t f" id="f1" style="top:1156.8px;letter-spacing:1.037px">* Россия признала ЛНР и ДНР в границах Луганской и Донецкой областей</div>
<div class="hr" style="top:1220px;left:29px;width:1142px"></div>
<div class="t f" id="f2" style="top:1250.5px;letter-spacing:0.889px">Источники: заявления офицальных лиц</div>
<div class="t f" id="f3" style="top:1250.5px;left:1016px;letter-spacing:0.578px">© РБК, 2022</div>
</body>
</html>
